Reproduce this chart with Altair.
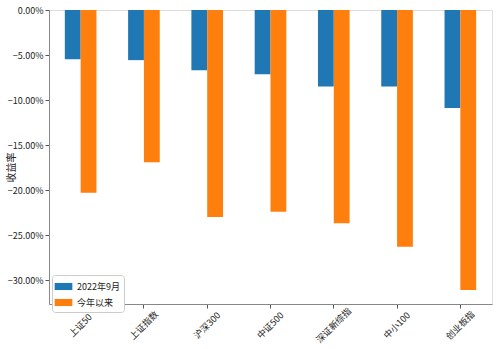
import altair as alt
import pandas as pd

categories = ["上证50", "上证指数", "沪深300", "中证500", "深证新综指", "中小100", "创业板指"]
series_names = ["2022年9月", "今年以来"]
sep_2022 = [-0.0547, -0.0557, -0.0670, -0.0715, -0.0850, -0.0850, -0.1090]
ytd = [-0.2030, -0.1690, -0.2300, -0.2240, -0.2370, -0.2630, -0.3110]

rows = []
for c, a, b in zip(categories, sep_2022, ytd):
    rows.append({"category": c, "series": series_names[0], "value": a})
    rows.append({"category": c, "series": series_names[1], "value": b})
df = pd.DataFrame(rows)

font = "Noto Sans CJK SC"

chart = alt.Chart(df).mark_bar().encode(
    x=alt.X("category:N", sort=categories,
            scale=alt.Scale(paddingInner=0.5, paddingOuter=0.25),
            axis=alt.Axis(title=None, labelAngle=-45, labelAlign="center",
                          labelBaseline="middle", labelPadding=17,
                          labelFontSize=9, labelColor="#222", tickColor="#555",
                          domainColor="#888", tickSize=4, labelFont=font)),
    xOffset=alt.XOffset("series:N", sort=series_names,
                        scale=alt.Scale(paddingInner=0, paddingOuter=0)),
    y=alt.Y("value:Q", scale=alt.Scale(domain=[-0.3266, 0], nice=False, zero=False),
            axis=alt.Axis(title="收益率", format=".2%", values=[0, -0.05, -0.10, -0.15, -0.20, -0.25, -0.30],
                          grid=False, labelFontSize=9, labelColor="#222", tickColor="#555",
                          domainColor="#888", tickSize=4, titleFont=font, labelFont=font,
                          titleFontSize=10, titleFontWeight="normal", titleColor="#222",
                          titleX=-38, titleY=157, titleAngle=270, titleAlign="center",
                          titleBaseline="middle")),
    color=alt.Color("series:N", sort=series_names,
                    scale=alt.Scale(domain=series_names, range=["#1f77b4", "#ff7f0e"]),
                    legend=alt.Legend(title=None, orient="none", legendX=3, legendY=265,
                                      symbolType="M-1.25,-0.5H1.25V0.5H-1.25Z", symbolSize=200,
                                      symbolStrokeWidth=0, labelOffset=6,
                                      labelFontSize=9, labelFont=font, labelColor="#222",
                                      strokeColor="#ccc", fillColor="white", padding=4,
                                      cornerRadius=3, rowPadding=3)),
).properties(
    width=443, height=294,
    autosize=alt.AutoSizeParams(type="none"),
    padding={"left": 49, "top": 10, "right": 8, "bottom": 45},
).configure_view(stroke="#888", strokeWidth=1).configure(background="white")

chart.save("out.html", embed_options={"renderer": "svg", "actions": False})
